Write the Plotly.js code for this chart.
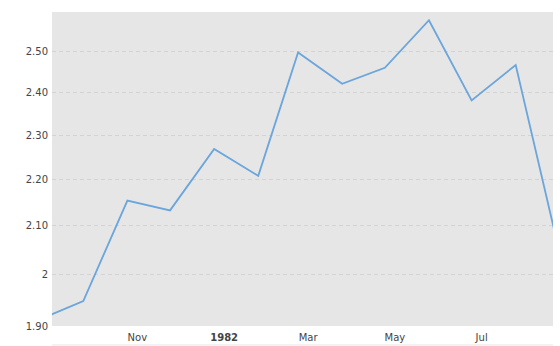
<!DOCTYPE html>
<html>
<head>
<meta charset="utf-8">
<script src="https://cdn.plot.ly/plotly-3.0.1.min.js"></script>
<style>html,body{margin:0;padding:0;background:#fff;}#chart{width:560px;height:346px;}</style>
</head>
<body>
<div id="chart"></div>
<script>
const dates = ['1981-09-01','1981-10-01','1981-11-01','1981-12-01','1982-01-01','1982-02-01','1982-03-01','1982-04-01','1982-05-01','1982-06-01','1982-07-01','1982-08-01','1982-09-01'];
const values = [1.913, 1.948, 2.154, 2.133, 2.268, 2.208, 2.498, 2.421, 2.460, 2.580, 2.381, 2.467, 2.042];
const yTickVals = [1.9, 2.0, 2.1, 2.2, 2.3, 2.4, 2.5];
const yTickText = ['1.90', '2', '2.10', '2.20', '2.30', '2.40', '2.50'];
const xTickVals = ['1981-11-01', '1982-01-01', '1982-03-01', '1982-05-01', '1982-07-01'];
const xTickText = ['Nov', '<b>1982</b>', 'Mar', 'May', 'Jul'];

const trace = {
  x: dates, y: values, type: 'scatter', mode: 'lines',
  line: {color: '#6aa5db', width: 1.8},
  hoverinfo: 'skip'
};
const layout = {
  width: 560, height: 346,
  margin: {l: 52, r: 7, t: 12, b: 20},
  paper_bgcolor: '#ffffff',
  plot_bgcolor: '#e6e6e6',
  showlegend: false,
  font: {family: 'DejaVu Sans, Verdana, sans-serif', size: 10, color: '#333333'},
  xaxis: {
    type: 'date',
    range: ['1981-09-09', '1982-08-27 05:00'],
    tickvals: xTickVals, ticktext: xTickText,
    ticklabelshift: 10,
    ticklabelstandoff: 4,
    showgrid: false, zeroline: false, showline: false, ticks: '',
    tickfont: {size: 10, color: '#444444'}
  },
  yaxis: {
    type: 'log',
    range: [Math.log10(1.9), 0.415187],
    tickvals: yTickVals, ticktext: yTickText,
    ticklabelstandoff: 3,
    showgrid: true, gridcolor: '#d3d3d3', griddash: '4px,3px', gridwidth: 1,
    zeroline: false, showline: false, ticks: '',
    tickfont: {size: 10, color: '#444444'}
  },
  shapes: [{
    type: 'line', xref: 'paper', yref: 'paper', x0: 0, x1: 1, y0: -0.0605, y1: -0.0605,
    line: {color: '#e6e6e6', width: 1}
  }]
};
Plotly.newPlot('chart', [trace], layout, {staticPlot: true, displayModeBar: false});
</script>
</body>
</html>
